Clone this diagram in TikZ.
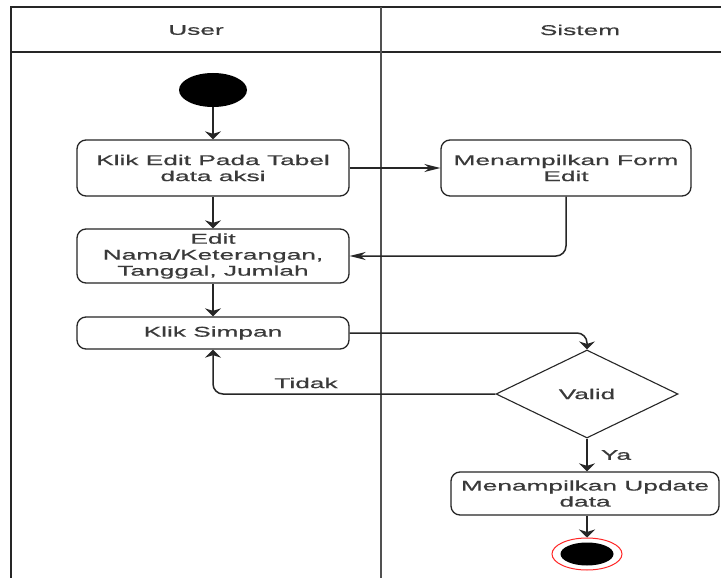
\documentclass[tikz,border=0pt]{standalone}
\usepackage{fontspec}
\setmainfont{Liberation Sans}[FakeStretch=1.85, FakeBold=0.6]
\usetikzlibrary{shapes.geometric,arrows.meta}
\definecolor{ink}{HTML}{262626}
\definecolor{txt}{HTML}{3A3A3A}
\tikzset{
  lane/.style={draw=ink, line width=2pt},
  actbox/.style={draw=ink, line width=1.3pt, rounded corners=9pt, align=center,
    inner sep=0pt, text=txt},
  decision/.style={diamond, draw=ink, line width=1.1pt, inner sep=0pt, text=txt},
  flow/.style={draw=ink, line width=1.5pt, rounded corners=10pt},
  varr/.style={flow, -{Stealth[length=8pt,width=16pt,inset=2.5pt]}},
  harr/.style={flow, -{Stealth[length=16pt,width=8pt,inset=5pt]}},
  lbl/.style={text=txt, inner sep=0pt},
}
\begin{document}
\begin{tikzpicture}[x=1pt, y=-1pt, font=\fontsize{14.2}{16}\selectfont]
\useasboundingbox (0,0) rectangle (721,578);
\fill[white] (0,0) rectangle (721,578);

% swimlane frame
\draw[lane] (11,578) -- (11,7) -- (721,7);
\draw[draw=ink, line width=1.6pt] (11,52) -- (721,52);
\draw[draw=ink!80, line width=2.6pt] (381,7) -- (381,578);
\node[lbl] (hUser) at (196,30) {User};
\node[lbl] (hSistem) at (580,30) {Sistem};

% activity nodes
\node[ellipse, fill=black, minimum width=68pt, minimum height=34pt, inner sep=0pt] (start) at (213,90) {};
\node[actbox, minimum width=272pt, minimum height=56pt] (b1) at (213,168) {Klik Edit Pada Tabel\\data aksi};
\node[actbox, minimum width=250pt, minimum height=56pt] (form) at (566,168) {Menampilkan Form\\Edit};
\node[actbox, minimum width=272pt, minimum height=54pt] (b2) at (213,256) {Edit\\Nama/Keterangan,\\Tanggal, Jumlah};
\node[actbox, minimum width=272pt, minimum height=32pt] (b3) at (213,333) {Klik Simpan};
\node[decision, minimum width=182pt, minimum height=88pt, shape aspect=2] (valid) at (587,394) {Valid};
\node[actbox, minimum width=268pt, minimum height=43pt] (upd) at (585,493.5) {Menampilkan Update\\data};
\node[ellipse, draw=red!85, line width=1pt, fill=white, minimum width=70pt, minimum height=32pt, inner sep=0pt] (stop) at (587,554) {};
\node[ellipse, fill=black, minimum width=53pt, minimum height=23pt, inner sep=0pt] (stopdot) at (587,554) {};

% control flow
\draw[varr] (start) -- (b1);
\draw[harr] (b1.east) -- (form.west);
\draw[harr] (form.south) |- (b2.east);
\draw[varr] (b1) -- (b2);
\draw[varr] (b2) -- (b3);
\draw[varr] (b3.east) -| (valid.north);
\draw[varr] (valid.west) -| (b3.south);
\node[lbl] (tidak) at (306,383) {Tidak};
\draw[varr] (valid.south) -- (valid.south |- upd.north);
\node[lbl] (ya) at (616,455) {Ya};
\draw[varr] (stop.north |- upd.south) -- (stop.north);
\end{tikzpicture}
\end{document}
